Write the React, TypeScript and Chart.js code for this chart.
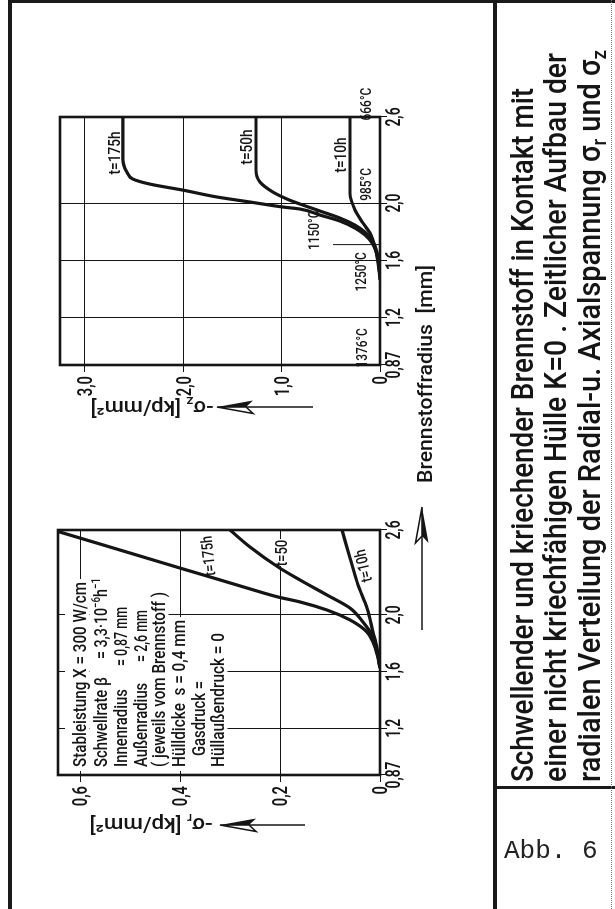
import React, { useEffect, useRef } from "react";
import { Chart, registerables } from "chart.js";

Chart.register(...registerables);

// ---------------- data ----------------
const radiusTicks = [0.87, 1.2, 1.6, 2.0, 2.6];
const radiusTickLabels = ["0,87", "1,2", "1,6", "2,0", "2,6"];

const sigmaRTicks = [0, 0.2, 0.4, 0.6];
const sigmaRTickLabels = ["0", "0,2", "0,4", "0,6"];
const sigmaZTicks = [0, 1, 2, 3];
const sigmaZTickLabels = ["0", "1,0", "2,0", "3,0"];

const sigmaRSeriesLabels = ["t=175h", "t=50", "t=10h"];
const sigmaZSeriesLabels = ["t=175h", "t=50h", "t=10h"];

// radial stress -sigma_r [kp/mm2] vs fuel radius [mm]
const sigmaR175Radius = [1.626, 1.696, 1.809, 1.88, 1.965, 2.035, 2.092, 2.127, 2.184, 2.254, 2.325, 2.395, 2.501, 2.579, 2.6];
const sigmaR175Value = [0, 0.004, 0.014, 0.026, 0.06, 0.106, 0.16, 0.204, 0.26, 0.326, 0.394, 0.46, 0.56, 0.634, 0.654];
const sigmaR50Radius = [1.626, 1.739, 1.859, 1.95, 2.049, 2.141, 2.247, 2.339, 2.48, 2.6];
const sigmaR50Value = [0, 0.006, 0.016, 0.034, 0.06, 0.106, 0.16, 0.204, 0.26, 0.3];
const sigmaR10Radius = [1.626, 1.767, 1.88, 2.049, 2.212, 2.402, 2.6];
const sigmaR10Value = [0, 0.006, 0.014, 0.026, 0.044, 0.06, 0.076];

// axial stress -sigma_z [kp/mm2] vs fuel radius [mm]
const sigmaZ175Radius = [1.463, 1.56, 1.637, 1.721, 1.777, 1.825, 1.874, 1.916, 1.958, 1.972, 2.007, 2.042, 2.09, 2.132, 2.167, 2.216, 2.307, 2.6];
const sigmaZ175Value = [0, 0.01, 0.03, 0.081, 0.153, 0.254, 0.407, 0.61, 0.814, 0.987, 1.322, 1.658, 2.004, 2.34, 2.513, 2.574, 2.614, 2.614];
const sigmaZ50Radius = [1.463, 1.567, 1.658, 1.742, 1.797, 1.846, 1.895, 1.944, 1.993, 2.028, 2.076, 2.146, 2.23, 2.6];
const sigmaZ50Value = [0, 0.01, 0.031, 0.081, 0.153, 0.254, 0.407, 0.61, 0.814, 0.946, 1.088, 1.221, 1.261, 1.261];
const sigmaZ10Radius = [1.484, 1.581, 1.693, 1.79, 1.86, 1.951, 2.069, 2.6];
const sigmaZ10Value = [0, 0.02, 0.051, 0.102, 0.173, 0.254, 0.305, 0.305];

const temperatureLabels = ["1376°C", "1250°C", "1150°C", "985°C", "666°C"];

const titleLines = [
  "Schwellender und kriechender Brennstoff in Kontakt mit",
  "einer nicht kriechfähigen Hülle K=0 . Zeitlicher Aufbau der",
  "radialen Verteilung der Radial-u. Axialspannung σ_{r} und σ_{z}",
];
const figureLabel = "Abb. 6";
const xAxisTitle = "Brennstoffradius  [mm]";
const sigmaRAxisTitle = "-σ_{r} [kp/mm²]";
const sigmaZAxisTitle = "-σ_{z} [kp/mm²]";
const parameterLabels = [
  "Stableistung X = 300 W/cm",
  "Schwellrate β",
  "Innenradius",
  "Außenradius",
  "( jeweils vom Brennstoff )",
  "Hülldicke  s = 0,4 mm",
  "Gasdruck =",
  "Hüllaußendruck = 0",
];
const parameterValues = ["", "= 3,3·10^{−6}h^{−1}", "= 0,87 mm", "= 2,6 mm", "", "", "", ""];

// ---------------- drawing helpers ----------------
const INK = "#151515";
const FONT = "Roboto, 'Liberation Sans', 'DejaVu Sans', sans-serif";
const W = 909;
const H = 615;

type Seg = { t: string; sub?: boolean; sup?: boolean };

function parse(s: string): Seg[] {
  const out: Seg[] = [];
  const re = /([_^])\{([^}]*)\}/g;
  let last = 0;
  let m: RegExpExecArray | null;
  while ((m = re.exec(s))) {
    if (m.index > last) out.push({ t: s.slice(last, m.index) });
    out.push(m[1] === "_" ? { t: m[2], sub: true } : { t: m[2], sup: true });
    last = m.index + m[0].length;
  }
  if (last < s.length) out.push({ t: s.slice(last) });
  return out;
}

type TOpt = {
  size: number;
  weight?: number;
  width?: number;
  sx?: number;
  align?: "left" | "center" | "right";
  rot?: number;
  mid?: boolean;
};

function rich(ctx: CanvasRenderingContext2D, text: string, x: number, y: number, o: TOpt) {
  const segs = parse(text);
  const weight = o.weight ?? 500;
  const fontOf = (s: Seg) => `${weight} ${s.sub || s.sup ? Math.round(o.size * 0.66) : o.size}px ${FONT}`;
  ctx.save();
  const ws = segs.map((s) => {
    ctx.font = fontOf(s);
    return ctx.measureText(s.t).width;
  });
  const nat = ws.reduce((a, b) => a + b, 0);
  const sx = o.width ? o.width / nat : o.sx ?? 1;
  const tot = nat * sx;
  const align = o.align ?? "left";
  ctx.translate(x, y);
  if (o.rot) ctx.rotate(o.rot);
  ctx.translate(align === "left" ? 0 : align === "center" ? -tot / 2 : -tot, o.mid ? o.size * 0.35 : 0);
  ctx.scale(sx, 1);
  ctx.fillStyle = INK;
  ctx.textAlign = "left";
  ctx.textBaseline = "alphabetic";
  let cx = 0;
  segs.forEach((s, i) => {
    ctx.font = fontOf(s);
    ctx.fillText(s.t, cx, s.sub ? o.size * 0.2 : s.sup ? -o.size * 0.36 : 0);
    cx += ws[i];
  });
  ctx.restore();
  return tot;
}

function whiteBox(ctx: CanvasRenderingContext2D, x: number, y: number, w: number, h: number) {
  ctx.save();
  ctx.fillStyle = "#fff";
  ctx.fillRect(x, y, w, h);
  ctx.restore();
}

function arrow(ctx: CanvasRenderingContext2D, x0: number, y0: number, x1: number, y1: number) {
  const dx = x1 - x0;
  const dy = y1 - y0;
  const len = Math.hypot(dx, dy);
  const ux = dx / len;
  const uy = dy / len;
  const px = -uy;
  const py = ux;
  const hl = 36;
  const hw = 6.5;
  const bx = x1 - ux * hl;
  const by = y1 - uy * hl;
  const nx = bx + ux * 7;
  const ny = by + uy * 7;
  ctx.save();
  ctx.strokeStyle = INK;
  ctx.fillStyle = INK;
  ctx.lineWidth = 1.5;
  ctx.beginPath();
  ctx.moveTo(x0, y0);
  ctx.lineTo(nx, ny);
  ctx.stroke();
  ctx.beginPath();
  ctx.moveTo(x1, y1);
  ctx.lineTo(bx + px * hw, by + py * hw);
  ctx.lineTo(nx, ny);
  ctx.closePath();
  ctx.fill();
  ctx.beginPath();
  ctx.moveTo(x1, y1);
  ctx.lineTo(bx - px * hw, by - py * hw);
  ctx.lineTo(nx, ny);
  ctx.closePath();
  ctx.stroke();
  ctx.restore();
}

function frame(chart: any) {
  const { ctx, chartArea: a } = chart;
  ctx.save();
  ctx.strokeStyle = INK;
  ctx.lineWidth = 2.6;
  ctx.strokeRect(a.left, a.top, a.right - a.left, a.bottom - a.top);
  ctx.restore();
}

function tickLabels(chart: any, yTicks: number[], yLabels: string[]) {
  const { ctx, chartArea: a, scales } = chart;
  radiusTicks.forEach((v, i) => {
    rich(ctx, radiusTickLabels[i], scales.x.getPixelForValue(v), a.bottom + 19.5, { size: 21, weight: 600, sx: 0.66, align: "center" });
  });
  yTicks.forEach((v, i) => {
    rich(ctx, yLabels[i], a.left - 11, scales.y.getPixelForValue(v), { size: 21, weight: 600, sx: 0.7, align: "right", mid: true });
  });
}

// ---------------- plugins ----------------
const paramRows = [
  { y: 79, x: 142, w: 185 },
  { y: 100, x: 142, sx: 0.78, vx: 250, vw: 81 },
  { y: 120, x: 142, sx: 0.78, vx: 243, vw: 59 },
  { y: 140, x: 142, sx: 0.78, vx: 247, vw: 52 },
  { y: 158, x: 142, w: 175 },
  { y: 178, x: 142, w: 147 },
  { y: 198, x: 153, sx: 0.78 },
  { y: 217, x: 142, w: 134 },
];

const leftDecor = {
  id: "leftDecor",
  beforeDatasetsDraw(chart: any) {
    const ctx = chart.ctx as CanvasRenderingContext2D;
    const ends: number[] = [];
    // draw text first on a measuring pass to know extents
    paramRows.forEach((r: any, i) => {
      const top = i === 0 ? 65 : r.y - 10;
      const bot = r.y + 10;
      const approx = r.vx ? r.vx + r.vw : r.w ? r.x + r.w : r.x + 70;
      ends.push(approx);
      whiteBox(ctx, 138, top, Math.max(approx, 243) - 138 + 3, bot - top + 0.5);
    });
    paramRows.forEach((r: any, i) => {
      rich(ctx, parameterLabels[i], r.x, r.y, r.w ? { size: 19, weight: 500, width: r.w, mid: true } : { size: 19, weight: 500, sx: r.sx, mid: true });
      if (r.vx) rich(ctx, parameterValues[i], r.vx, r.y, { size: 19, weight: 500, width: r.vw, mid: true });
    });
    // clear the grid line under the t=50 label
    whiteBox(ctx, 343, 274, 27, 14);
  },
  afterDatasetsDraw(chart: any) {
    const ctx = chart.ctx as CanvasRenderingContext2D;
    frame(chart);
    tickLabels(chart, sigmaRTicks, sigmaRTickLabels);
    rich(ctx, sigmaRSeriesLabels[0], 353, 208, { size: 16, sx: 0.8, align: "center", rot: -0.1, mid: true });
    rich(ctx, sigmaRSeriesLabels[1], 356, 281, { size: 16, sx: 0.82, align: "center", mid: true });
    rich(ctx, sigmaRSeriesLabels[2], 343, 363, { size: 16, sx: 0.8, align: "center", rot: -0.23, mid: true });
    rich(ctx, sigmaRAxisTitle, 84, 151, { size: 20, width: 123, align: "center", rot: -Math.PI / 2, mid: true });
    arrow(ctx, 84, 305, 84, 220);
    arrow(ctx, 279, 422, 402, 422);
    rich(ctx, xAxisTitle, 426, 425, { size: 21, width: 218, mid: true });
  },
};

const rightDecor = {
  id: "rightDecor",
  afterDatasetsDraw(chart: any) {
    const ctx = chart.ctx as CanvasRenderingContext2D;
    const a = chart.chartArea;
    const xs = chart.scales.x;
    frame(chart);
    tickLabels(chart, sigmaZTicks, sigmaZTickLabels);
    rich(ctx, sigmaZSeriesLabels[0], 756, 114, { size: 17, sx: 0.8, align: "center", mid: true });
    rich(ctx, sigmaZSeriesLabels[1], 762, 246, { size: 17, sx: 0.8, align: "center", mid: true });
    rich(ctx, sigmaZSeriesLabels[2], 754, 340, { size: 17, sx: 0.8, align: "center", mid: true });
    // temperature annotations along the radius
    const tPos = [
      [0.99, a.bottom - 18],
      [1.52, a.bottom - 19],
      [1.81, a.bottom - 66],
      [2.13, a.bottom - 14],
      [2.69, a.bottom - 14],
    ];
    temperatureLabels.forEach((t, i) => {
      rich(ctx, t, xs.getPixelForValue(tPos[i][0]), tPos[i][1], { size: 14, sx: 0.85, align: "center", mid: true });
    });
    const mx = xs.getPixelForValue(1.71);
    ctx.save();
    ctx.strokeStyle = INK;
    ctx.lineWidth = 1;
    ctx.beginPath();
    ctx.moveTo(mx, a.bottom);
    ctx.lineTo(mx, a.bottom - 47);
    ctx.stroke();
    ctx.restore();
    rich(ctx, sigmaZAxisTitle, 501, 152, { size: 20, width: 123, align: "center", rot: -Math.PI / 2, mid: true });
    arrow(ctx, 502, 313, 502, 217);
    // caption
    const caps = [[533, 694], [566, 729], [600, 732]];
    titleLines.forEach((t, i) => {
      rich(ctx, t, 127, caps[i][0], { size: 32, weight: 500, width: caps[i][1] });
    });
  },
};

function series(xs: number[], ys: number[], label: string) {
  return {
    label,
    data: xs.map((x, i) => ({ x, y: ys[i] })),
    borderColor: INK,
    borderWidth: 3.2,
    pointRadius: 0,
    fill: false,
    cubicInterpolationMode: "monotone" as const,
  };
}

function makeChart(
  canvas: HTMLCanvasElement,
  area: { l: number; r: number; t: number; b: number },
  yMax: number,
  yTicks: number[],
  datasets: any[],
  plugin: any
) {
  const grid = { color: INK, lineWidth: 1, drawTicks: true, tickLength: 7, tickColor: INK };
  return new Chart(canvas, {
    type: "line",
    data: { datasets },
    options: {
      animation: false,
      responsive: false,
      devicePixelRatio: 1,
      events: [],
      layout: { padding: { left: area.l - 40, right: W - area.r, top: area.t, bottom: H - area.b - 30 } },
      plugins: { legend: { display: false }, tooltip: { enabled: false } },
      scales: {
        x: {
          type: "linear",
          min: 0.87,
          max: 2.6,
          afterBuildTicks: (s: any) => {
            s.ticks = radiusTicks.map((v) => ({ value: v }));
          },
          afterFit: (s: any) => {
            s.height = 30;
          },
          ticks: { display: false },
          grid,
          border: { display: false },
        },
        y: {
          type: "linear",
          min: 0,
          max: yMax,
          afterBuildTicks: (s: any) => {
            s.ticks = yTicks.map((v) => ({ value: v }));
          },
          afterFit: (s: any) => {
            s.width = 40;
          },
          ticks: { display: false },
          grid,
          border: { display: false },
        },
      },
    } as any,
    plugins: [plugin],
  });
}

export default function App() {
  const leftRef = useRef<HTMLCanvasElement>(null);
  const rightRef = useRef<HTMLCanvasElement>(null);

  useEffect(() => {
    const left = makeChart(
      leftRef.current!,
      { l: 134, r: 379, t: 58, b: 380 },
      0.644,
      sigmaRTicks,
      [
        series(sigmaR175Radius, sigmaR175Value, sigmaRSeriesLabels[0]),
        series(sigmaR50Radius, sigmaR50Value, sigmaRSeriesLabels[1]),
        series(sigmaR10Radius, sigmaR10Value, sigmaRSeriesLabels[2]),
      ],
      leftDecor
    );
    const right = makeChart(
      rightRef.current!,
      { l: 544, r: 792, t: 60, b: 380 },
      3.254,
      sigmaZTicks,
      [
        series(sigmaZ175Radius, sigmaZ175Value, sigmaZSeriesLabels[0]),
        series(sigmaZ50Radius, sigmaZ50Value, sigmaZSeriesLabels[1]),
        series(sigmaZ10Radius, sigmaZ10Value, sigmaZSeriesLabels[2]),
      ],
      rightDecor
    );
    return () => {
      left.destroy();
      right.destroy();
    };
  }, []);

  const line = (s: React.CSSProperties) => <div style={{ position: "absolute", background: "#1a1a1a", ...s }} />;

  return (
    <div style={{ position: "fixed", left: 0, top: 0, width: 615, height: 909, background: "#fff", overflow: "hidden" }}>
      <div
        style={{
          position: "absolute",
          left: 0,
          top: 0,
          width: W,
          height: H,
          transformOrigin: "0 0",
          transform: `translate(0px, ${W}px) rotate(-90deg)`,
        }}
      >
        <canvas ref={leftRef} width={W} height={H} style={{ position: "absolute", left: 0, top: 0, width: W, height: H }} />
        <canvas ref={rightRef} width={W} height={H} style={{ position: "absolute", left: 0, top: 0, width: W, height: H }} />
      </div>
      {line({ left: 8, top: 0, width: 3.5, height: 909 })}
      {line({ left: 8, top: 0, width: 607, height: 3 })}
      {line({ left: 493, top: 0, width: 3.5, height: 909 })}
      {line({ left: 493, top: 786, width: 122, height: 3 })}
      <div style={{ position: "absolute", left: 611, top: 0, width: 0, height: 909, borderLeft: "1px dotted #777" }} />
      <div
        style={{
          position: "absolute",
          left: 504,
          top: 838,
          font: "26px 'Liberation Mono', 'DejaVu Sans Mono', monospace",
          lineHeight: "26px",
          color: "#222",
          whiteSpace: "nowrap",
        }}
      >
        {figureLabel}
      </div>
    </div>
  );
}
